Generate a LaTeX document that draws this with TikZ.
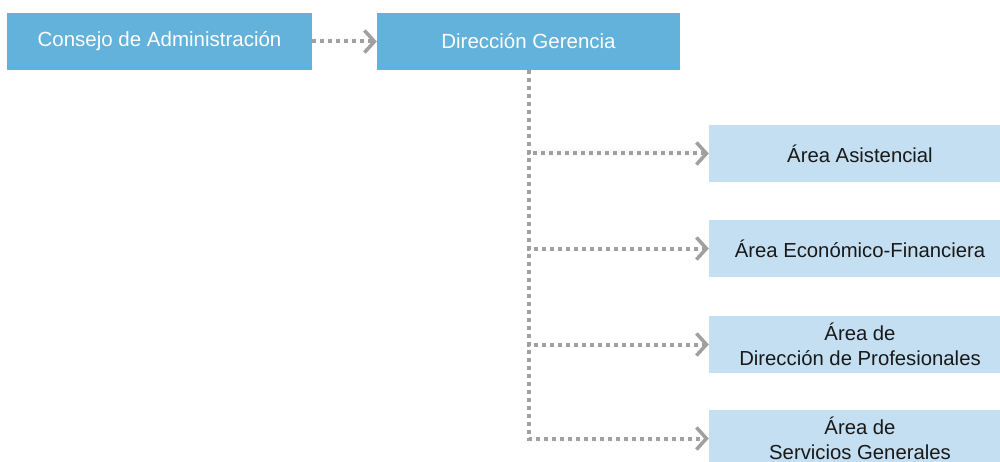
\documentclass[tikz,border=0pt]{standalone}
\usepackage{fontspec}
\setmainfont{Liberation Sans}
\usetikzlibrary{arrows.meta}
\definecolor{darkbox}{HTML}{62B2DB}
\definecolor{lightbox}{HTML}{C5DFF2}
\definecolor{conngray}{HTML}{A0A0A0}
\tikzset{
  topbox/.style={fill=darkbox, text=white, minimum width=305pt, minimum height=57pt, inner sep=0pt, font=\fontsize{20.5}{25}\selectfont, align=center},
  areabox/.style={fill=lightbox, text=black!90, minimum width=302pt, minimum height=57pt, inner sep=0pt, font=\fontsize{20.3}{25}\selectfont, align=center},
  conn/.style={draw=conngray, line width=4pt, dash pattern=on 4.2pt off 3.8pt, -{Straight Barb[length=10pt, width=22pt, line width=3.5pt]}}
}
\begin{document}
\begin{tikzpicture}[x=1pt, y=-1pt]
\useasboundingbox (0,0) rectangle (1000,462);
\node[topbox] (ca) at (159.5,41.5) {Consejo de Administración};
\node[topbox, minimum width=303pt] (dg) at (528.5,41.5) {Dirección Gerencia};
\node[areabox] (as) at (860,153.5) {Área Asistencial};
\node[areabox] (ef) at (860,248.5) {Área Económico-Financiera};
\node[areabox] (dp) at (860,344.5) {Área de\\Dirección de Profesionales};
\node[areabox] (sg) at (860,438.5) {Área de\\Servicios Generales};
\draw[conn] (ca.east) -- (dg.west);
\draw[conn] (dg.south) |- (as.west);
\draw[conn] (dg.south) |- (ef.west);
\draw[conn] (dg.south) |- (dp.west);
\draw[conn] (dg.south) |- (sg.west);
\end{tikzpicture}
\end{document}
